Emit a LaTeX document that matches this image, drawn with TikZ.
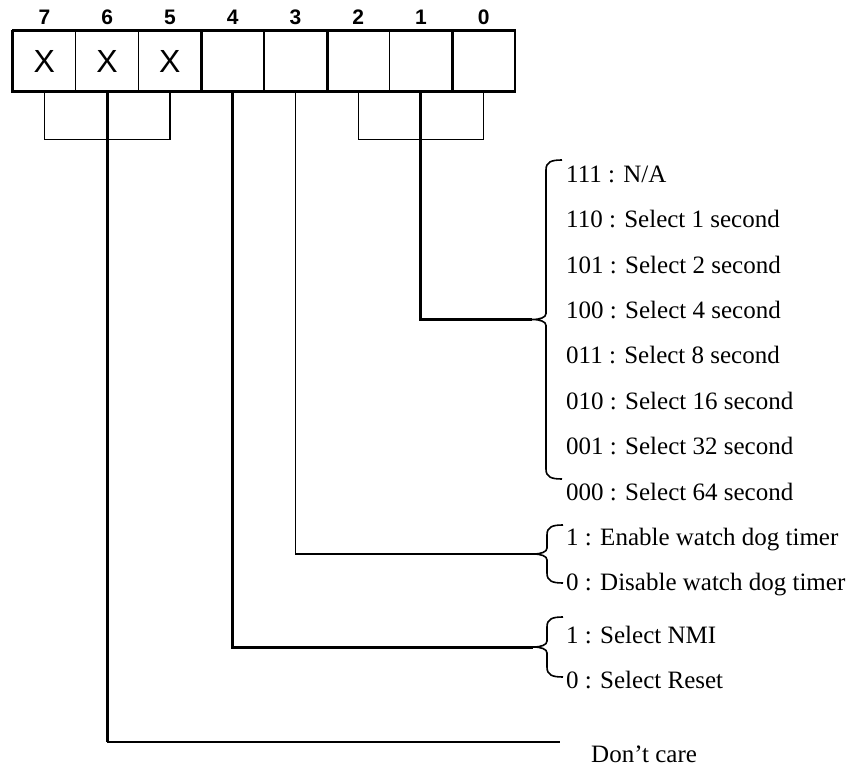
\documentclass[tikz,border=0pt]{standalone}
\usepackage{fontspec}
\setmainfont{Liberation Serif}
\newfontfamily\bitfont{Liberation Sans}
\usetikzlibrary{positioning,calc}

\begin{document}
\begin{tikzpicture}[
    x=1pt, y=-1pt,
    cell/.style={rectangle, draw, line width=1.2pt, minimum width=62.75pt,
                 minimum height=60pt, inner sep=0pt,
                 font=\bitfont\fontsize{32}{32}\selectfont},
    bitno/.style={anchor=base, inner sep=0pt,
                  font=\bitfont\bfseries\fontsize{21}{21}\selectfont},
    opt/.style={anchor=mid west, inner sep=0pt, font=\fontsize{25}{30}\selectfont},
    thin/.style={line width=1.2pt},
    bold/.style={line width=3pt},
    brc/.style={line width=1.6pt, to path={
        let \p1=(\tikztostart), \p2=(\tikztotarget),
            \p3=($(\tikztostart)!.5!(\tikztotarget)$) in
        (\p1) .. controls (\x1-11pt,\y1) and (\x1-16pt,\y1-2pt) .. (\x1-16pt,\y1-10pt)
        -- (\x1-16pt,\y3+6pt) .. controls (\x1-16pt,\y3+2pt) and (\x1-22pt,\y3) .. (\x1-30pt,\y3)
        .. controls (\x1-22pt,\y3) and (\x1-16pt,\y3-2pt) .. (\x1-16pt,\y3-6pt)
        -- (\x1-16pt,\y2+10pt) .. controls (\x1-16pt,\y2+2pt) and (\x1-11pt,\y2) .. (\p2)}}
  ]
  \useasboundingbox (0,0) rectangle (852,767);

  % register
  \foreach \b/\t in {7/X,6/X,5/X,4/,3/,2/,1/,0/} {
    \node[cell] (c\b) at ({44.4+62.75*(7-\b)},61) {\t};
    \node[bitno] (n\b) at ($(c\b.north)+(0,-6)$) {\b};
  }
  \draw[line width=2pt] (c7.north west) -- (c0.north east);
  \draw[bold] (c7.north west) -- (c7.south west) -- (c0.south east);
  \foreach \b in {5,3,1}
    \draw[bold] (c\b.north east) -- (c\b.south east);

  % grouped bits
  \draw[thin] (c7.south) -- ++(0,48) -| (c5.south);
  \draw[thin] (c2.south) -- ++(0,48) -| (c0.south);

  % bits 2-0
  \foreach \s [count=\i from 0] in {111 : N/A, 110 : Select 1 second,
      101 : Select 2 second, 100 : Select 4 second, 011 : Select 8 second,
      010 : Select 16 second, 001 : Select 32 second, 000 : Select 64 second}
    \node[opt] (o\i) at (566,{180+45.4*\i}) {\s};
  \draw[brc] (562,160) to (562,479);
  \coordinate (t1) at (532,319.5);
  \draw[bold] (c1.south) |- (t1);

  % bit 3
  \node[opt] (en) at (566,543) {1 : Enable watch dog timer};
  \node[opt] (dis) at (566,588) {0 : Disable watch dog timer};
  \draw[brc] (563,525) to (563,583);
  \coordinate (t3) at (533,554);
  \draw[thin] (c3.south) |- (t3);

  % bit 4
  \node[opt] (nmi) at (566,641) {1 : Select NMI};
  \node[opt] (rst) at (566,686) {0 : Select Reset};
  \draw[brc] (563,617) to (563,677);
  \coordinate (t4) at (533,647);
  \draw[bold] (c4.south) |- (t4);

  % bits 7-5
  \node[opt] (dc) at (591,760) {Don't care};
  \coordinate (e6) at (560,742);
  \draw[bold] (c6.south) -- (c6.south |- e6);
  \draw[thin] (c6.south |- e6) -- (e6);
\end{tikzpicture}
\end{document}
